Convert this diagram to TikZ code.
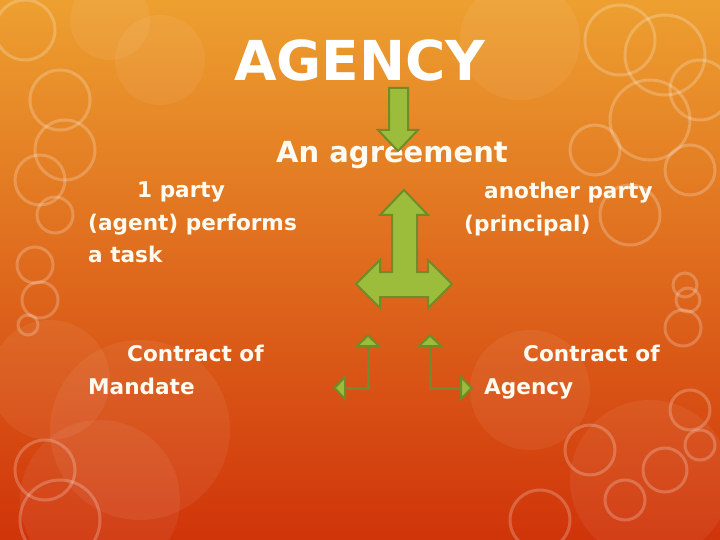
\documentclass[tikz,border=0pt]{standalone}
\usepackage{fontspec}
\setmainfont{DejaVu Sans}
\usetikzlibrary{arrows.meta}
\definecolor{bgtop}{HTML}{EDA030}
\definecolor{bgmid}{HTML}{E27420}
\definecolor{bgbot}{HTML}{D0340A}
\definecolor{leaf}{HTML}{9CBD3C}
\definecolor{leafdark}{HTML}{6E8C28}
\definecolor{cream}{HTML}{FFFBF0}
\begin{document}
\begin{tikzpicture}[x=1pt,y=-1pt,
  slidetext/.style={text=cream,font=\bfseries\fontsize{21.6}{32.5}\selectfont,align=left,inner sep=0pt,anchor=north west},
  blockarrow/.style={fill=leaf,draw=leafdark,line width=2pt,line join=miter},
  elbow/.style={draw=leafdark,line width=3pt,>={Triangle[width=26pt,length=13pt,line width=2pt,fill=leaf]},<->},
  ring/.style={draw=white,draw opacity=.22,line width=3pt},
  glow/.style={fill=white,fill opacity=.06}]
\useasboundingbox (0,0) rectangle (720,540);
\shade[top color=bgtop,middle color=bgmid,bottom color=bgbot] (0,0) rectangle (720,540);
% background bubbles
\foreach \cx/\cy/\r in {140/430/90,50/380/60,100/500/80,650/480/80,520/40/60,530/390/60,160/60/45,110/20/40}
  \fill[glow] (\cx,\cy) circle[radius=\r];
\foreach \cx/\cy/\r in {60/100/30,65/150/30,40/180/25,55/215/18,35/265/18,40/300/18,28/325/10,25/30/30,
  60/520/40,45/470/30,620/40/35,665/55/40,595/150/25,650/120/40,700/90/30,690/170/25,630/215/30,
  685/285/12,688/300/12,683/328/18,590/450/25,665/470/22,690/410/20,625/500/20,700/445/15,540/520/30}
  \draw[ring] (\cx,\cy) circle[radius=\r];
% texts
\node[text=white,font=\bfseries\fontsize{55}{60}\selectfont,anchor=base] (title) at (360,81) {AGENCY};
\node[text=cream,font=\bfseries\fontsize{29}{32}\selectfont,anchor=base] (agreement) at (392,163) {An agreement};
\node[slidetext] (agent) at (88,182) {\hspace*{49pt}1 party\\(agent) performs\\a task};
\node[slidetext] (principal) at (464,182) {\hspace*{20pt}another party\\(principal)};
\node[slidetext] (mandate) at (88,345) {\hspace*{39pt}Contract of\\Mandate};
\node[slidetext] (agency) at (484,345) {\hspace*{39pt}Contract of\\Agency};
% block arrows
\draw[blockarrow] (389,88) -- (408,88) -- (408,130) -- (418,130) -- (398,151) -- (378,130) -- (389,130) -- cycle;
\draw[blockarrow] (404,190) -- (428,215) -- (417,215) -- (417,272) -- (428,272) -- (428,260) -- (452,284)
  -- (428,308) -- (428,297) -- (380,297) -- (380,308) -- (356,284) -- (380,260) -- (380,272)
  -- (392,272) -- (392,215) -- (380,215) -- cycle;
% elbow arrows
\coordinate (mandUp) at (368,334);
\coordinate (mandLeft) at (333,388);
\coordinate (agUp) at (430,334);
\coordinate (agRight) at (473,388);
\draw[elbow] (mandUp) |- (mandLeft);
\draw[elbow] (agUp) |- (agRight);
\end{tikzpicture}
\end{document}
